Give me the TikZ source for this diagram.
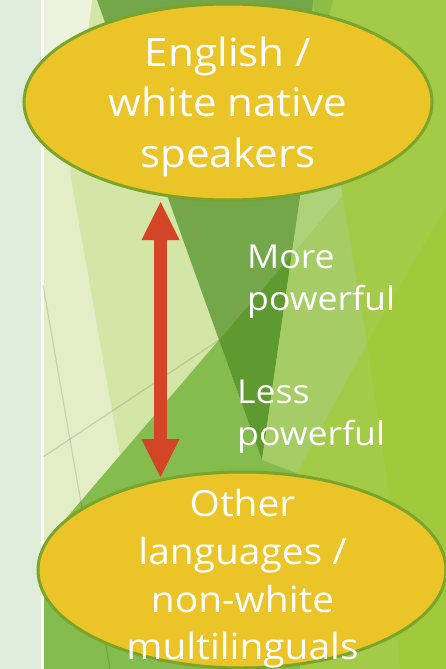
\documentclass[tikz,border=0pt]{standalone}
\usepackage{fontspec}
\setmainfont{Open Sans}[FakeStretch=1.08]
\usetikzlibrary{shapes}
\usetikzlibrary{arrows.meta}
\definecolor{strip}{HTML}{E0ECDA}
\definecolor{vlight}{HTML}{E3EEC6}
\definecolor{vlighttop}{HTML}{EDF3DD}
\definecolor{light}{HTML}{D4E6A6}
\definecolor{vgreen}{HTML}{74A64A}
\definecolor{vdark}{HTML}{5E9A30}
\definecolor{band}{HTML}{AED277}
\definecolor{bandlow}{HTML}{A6CC66}
\definecolor{medium}{HTML}{84BD4E}
\definecolor{ygreen}{HTML}{A3CB48}
\definecolor{ygreenlow}{HTML}{A0C93C}
\definecolor{midgreen}{HTML}{8CBE45}
\definecolor{blobfill}{HTML}{EBC427}
\definecolor{blobedge}{HTML}{7AA52A}
\definecolor{arrowred}{HTML}{D34526}
\tikzset{
	blob/.style = {
		ellipse,
		draw=blobedge,
		fill=blobfill,
		line width=3pt,
		minimum width=408pt,
		minimum height=196pt,
		inner sep=0pt
	},
	blob_text/.style = {
		align=center,
		inner sep=0pt,
		text=white,
		font=\fontsize{39}{50.8}\selectfont
	},
	blob_text_low/.style = {
		blob_text,
		font=\fontsize{36}{47.7}\selectfont
	},
	side_text/.style = {
		align=left,
		inner sep=0pt,
		text=white,
		anchor=west,
		font=\fontsize{33}{41.5}\selectfont
	},
	power_arrow/.style = {
		draw=arrowred,
		line width=13pt,
		<->,
		>={Triangle[width=38pt,length=38pt,line width=0pt]}
	},
	seam/.style = {
		draw=black,
		opacity=0.12,
		line width=1.2pt
	}
}
\begin{document}
\begin{tikzpicture}[x=1pt,y=-1pt]
\useasboundingbox (0,0) rectangle (446,669);
\fill[ygreen] (44,0) rectangle (446,669);
\fill[ygreenlow] (446,207) -- (367,343) -- (390,500) -- (400,669) -- (446,669) -- cycle;
\fill[strip] (0,0) rectangle (41,669);
\fill[white] (41,0) rectangle (44,669);
\fill[light] (44,0) -- (100,0) -- (262,460) -- (200,669) -- (44,669) -- cycle;
\fill[vlight] (44,0) -- (92,0) -- (70,173) -- (123,473) -- (140,669) -- (44,669) -- cycle;
\fill[vlighttop] (44,0) -- (92,0) -- (76,125) -- (44,125) -- cycle;
\fill[medium] (44,544) -- (219,340) -- (262,460) -- (297,473) -- (300,669) -- (44,669) -- cycle;
\fill[midgreen] (313,0) -- (333,0) -- (318,60) -- cycle;
\fill[vgreen] (97,0) -- (313,0) -- (300,197) -- (291.6,255.3) -- (219,340) -- cycle;
\fill[vdark] (219,340) -- (291.6,255.3) -- (262,460) -- cycle;
\fill[band] (307,150) -- (335,150) -- (342.5,196) -- (291.6,255.3) -- cycle;
\fill[bandlow] (291.6,255.3) -- (342.5,196) -- (367,343) -- (297,473) -- (262,460) -- cycle;
\draw[seam] (43,285) -- (110,669);
\draw[seam] (43,457) -- (219,340);

\node [blob] (top) at (228,102) {};
\node [blob] (low) at (242,570) {};
\node [blob_text] (top_text) at (228,106.8) {English /\\white native\\speakers};
\node [blob_text_low] (low_text) at (242.5,579) {Other\\languages /\\non-white\\multilinguals};
\node [side_text] (more_text) at (247,281.5) {More\\powerful};
\node [side_text] (less_text) at (237,416.8) {Less\\powerful};

\coordinate (arr_up) at (160.5,202);
\coordinate (arr_down) at (160.5,477);
\draw [power_arrow] (arr_up) -- (arr_down);
\end{tikzpicture}
\end{document}
